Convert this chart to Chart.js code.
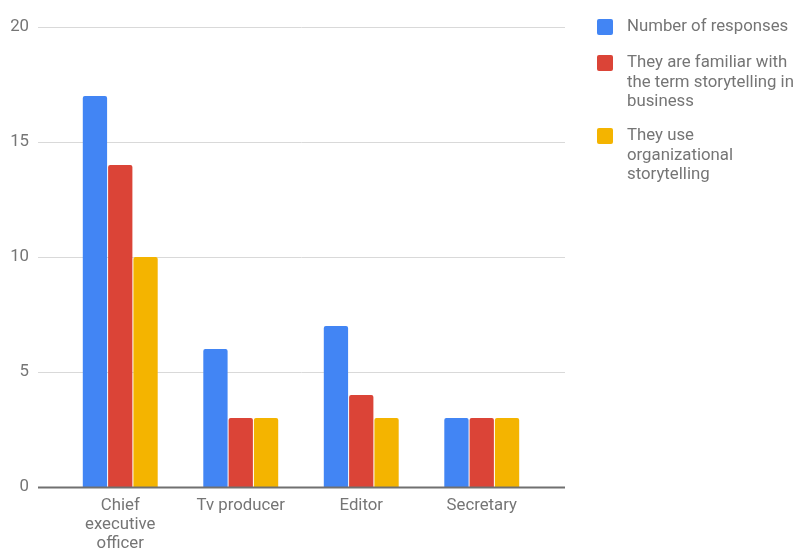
<!DOCTYPE html>
<html><head><meta charset="utf-8">
<script src="https://cdn.jsdelivr.net/npm/chart.js@4"></script>
<style>
html,body{margin:0;padding:0;background:#fff;}
#wrap{position:relative;width:798px;height:550px;}
#legend{position:absolute;left:597px;top:0;font-family:Roboto,sans-serif;font-size:16.8px;color:#757575;line-height:19.5px;}
.item{position:absolute;left:0;width:200px;}
.sw{position:absolute;left:0;top:3px;width:16px;height:16px;border-radius:2px;}
.tx{position:absolute;left:30px;white-space:nowrap;}
</style></head>
<body><div id="wrap"><canvas id="c" width="798" height="550"></canvas><div id="legend"></div></div>
<script>
const categories = [["Chief","executive","officer"], "Tv producer", "Editor", "Secretary"];
const seriesNames = ["Number of responses", "They are familiar with the term storytelling in business", "They use organizational storytelling"];
const legendLines = [["Number of responses"], ["They are familiar with", "the term storytelling in", "business"], ["They use", "organizational", "storytelling"]];
const numberOfResponses = [17, 6, 7, 3];
const familiarWithTerm = [14, 3, 4, 3];
const useStorytelling = [10, 3, 3, 3];
const yTicks = [0, 5, 10, 15, 20];
const colors = ["#4285F4", "#DB4437", "#F4B400"];
const legendTops = [16, 52, 125];

const gridPlugin = {
  id: 'extGrid',
  beforeDatasetsDraw(chart) {
    const ctx = chart.ctx, y = chart.scales.y;
    ctx.save();
    yTicks.forEach(v => {
      const py = Math.round(y.getPixelForValue(v)) + 0.5;
      ctx.beginPath();
      ctx.strokeStyle = '#d9d9d9'; ctx.lineWidth = 1;
      ctx.moveTo(38, py); ctx.lineTo(565, py); ctx.stroke();
    });
    ctx.restore();
  },
  afterDatasetsDraw(chart) {
    const ctx = chart.ctx, y = chart.scales.y;
    const py = Math.round(y.getPixelForValue(0)) + 0.5;
    ctx.save();
    ctx.strokeStyle = '#707070'; ctx.lineWidth = 2;
    ctx.beginPath(); ctx.moveTo(38, py); ctx.lineTo(565, py); ctx.stroke();
    ctx.restore();
  }
};

const data = [numberOfResponses, familiarWithTerm, useStorytelling];
new Chart(document.getElementById('c'), {
  type: 'bar',
  data: {
    labels: categories,
    datasets: data.map((d, i) => ({
      label: seriesNames[i], data: d, backgroundColor: colors[i],
      borderRadius: 2, borderSkipped: 'bottom',
      categoryPercentage: 0.63, barPercentage: 0.96
    }))
  },
  options: {
    responsive: false, animation: false,
    layout: { padding: { top: 27, right: 256, left: 0, bottom: 0 } },
    plugins: { legend: { display: false }, tooltip: { enabled: false } },
    scales: {
      x: {
        grid: { display: false, drawTicks: false },
        border: { display: false },
        ticks: { color: '#757575', font: { family: 'Roboto', size: 16.8, lineHeight: 1.15 }, padding: 9, maxRotation: 0, autoSkip: false },
        afterFit(s) { s.height = 63; }
      },
      y: {
        min: 0, max: 20,
        afterBuildTicks(s) { s.ticks = yTicks.map(v => ({ value: v })); },
        grid: { display: false, drawTicks: false },
        border: { display: false },
        ticks: { color: '#757575', font: { family: 'Roboto', size: 16.8 }, padding: 31 },
        afterFit(s) { s.width = 60; s.paddingTop = 0; s.paddingBottom = 0; }
      }
    }
  },
  plugins: [gridPlugin]
});

const lg = document.getElementById('legend');
legendLines.forEach((lines, i) => {
  const it = document.createElement('div');
  it.className = 'item'; it.style.top = legendTops[i] + 'px';
  const sw = document.createElement('div'); sw.className = 'sw'; sw.style.background = colors[i];
  const tx = document.createElement('div'); tx.className = 'tx'; tx.innerHTML = lines.join('<br>');
  it.appendChild(sw); it.appendChild(tx); lg.appendChild(it);
});
</script></body></html>
